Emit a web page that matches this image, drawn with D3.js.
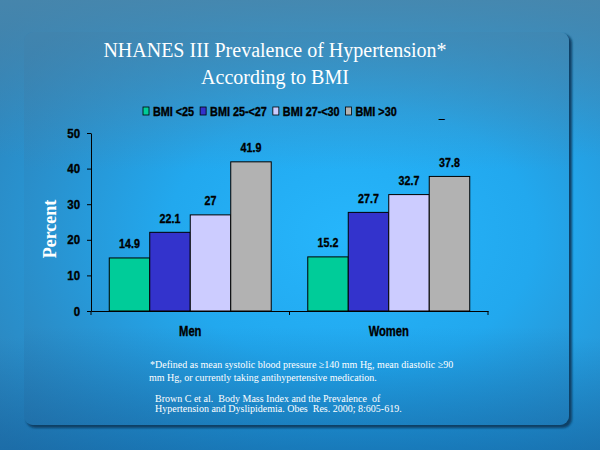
<!DOCTYPE html>
<html>
<head>
<meta charset="utf-8">
<script src="https://cdn.jsdelivr.net/npm/d3@7"></script>
<style>
  body { margin: 0; background: #2a90c8; }
  svg { display: block; }
  .bold { font-family: "Liberation Sans Narrow", "Arial Narrow", "Liberation Sans", sans-serif; font-weight: bold; stroke: #000; stroke-width: 0.35px; }
  .serif { font-family: "Liberation Serif", "Times New Roman", serif; fill: #fff; }
</style>
</head>
<body>
<div id="chart"></div>
<script>
var categories = ["Men", "Women"];
var series = ["BMI <25", "BMI 25-<27", "BMI 27-<30", "BMI >30"];
var men = [14.9, 22.1, 27, 41.9];
var women = [15.2, 27.7, 32.7, 37.8];
var yTicks = [0, 10, 20, 30, 40, 50];
var colors = ["#00cc99", "#3333cc", "#ccccff", "#b2b2b2"];
var footnotes = [
    "*Defined as mean systolic blood pressure \u2265140 mm Hg, mean diastolic \u226590",
    "mm Hg, or currently taking antihypertensive medication."
];
var reference = [
    "Brown C et al.  Body Mass Index and the Prevalence  of",
    "Hypertension and Dyslipidemia. Obes  Res. 2000; 8:605-619."
];

// squeeze bold labels so they look like the narrow font of the slide
function squeeze(sel, k) {
    sel.each(function() {
        var len = this.getComputedTextLength();
        d3.select(this)
          .attr("textLength", len * k)
          .attr("lengthAdjust", "spacingAndGlyphs");
    });
}

function init() {
    var w = 600, h = 450;
    var values = { "Men": men, "Women": women };

    var svg = d3.select("#chart").append("svg")
        .attr("width", w)
        .attr("height", h);

    var defs = svg.append("defs");
    var bg = defs.append("radialGradient").attr("id", "bg")
        .attr("cx", "60%").attr("cy", "52%").attr("r", "75%");
    bg.append("stop").attr("offset", "0%").attr("stop-color", "#26b6fc");
    bg.append("stop").attr("offset", "45%").attr("stop-color", "#22a8ee");
    bg.append("stop").attr("offset", "100%").attr("stop-color", "#2e80b6");

    var topShade = defs.append("linearGradient").attr("id", "topShade")
        .attr("x1", 0).attr("y1", 0).attr("x2", 0).attr("y2", 1);
    topShade.append("stop").attr("offset", "0%").attr("stop-color", "#4a86aa").attr("stop-opacity", 0.85);
    topShade.append("stop").attr("offset", "35%").attr("stop-color", "#4a86aa").attr("stop-opacity", 0);
    topShade.append("stop").attr("offset", "75%").attr("stop-color", "#0a5a9a").attr("stop-opacity", 0);
    topShade.append("stop").attr("offset", "100%").attr("stop-color", "#0a5a9a").attr("stop-opacity", 0.5);

    var blur = defs.append("filter").attr("id", "blur")
        .attr("x", "-5%").attr("y", "-5%").attr("width", "110%").attr("height", "110%");
    blur.append("feGaussianBlur").attr("stdDeviation", 1.2);

    // background
    svg.append("rect").attr("width", w).attr("height", h).attr("fill", "url(#bg)");
    svg.append("rect").attr("width", w).attr("height", h).attr("fill", "url(#topShade)");

    // panel with shadow
    svg.append("rect")
        .attr("x", 26).attr("y", 34).attr("width", 546).attr("height", 394)
        .attr("rx", 9)
        .attr("fill", "#0b3f66")
        .attr("filter", "url(#blur)");
    svg.append("rect")
        .attr("x", 24).attr("y", 32).attr("width", 545).attr("height", 393)
        .attr("rx", 9)
        .attr("fill", "url(#bg)");
    svg.append("rect")
        .attr("x", 24).attr("y", 32).attr("width", 545).attr("height", 393)
        .attr("rx", 9)
        .attr("fill", "url(#topShade)")
        .attr("opacity", 0.8);

    // title
    var title = svg.append("text").attr("class", "serif")
        .attr("text-anchor", "middle")
        .style("font-size", "20px");
    title.append("tspan").attr("x", 275).attr("y", 57).text("NHANES III Prevalence of Hypertension*");
    title.append("tspan").attr("x", 275).attr("y", 84).text("According to BMI");

    // scales
    var x0 = d3.scaleBand()
        .domain(categories)
        .range([91, 488])
        .paddingInner(0.184)
        .paddingOuter(0.092);
    var x1 = d3.scaleBand()
        .domain(series)
        .range([0, x0.bandwidth()]);
    var y = d3.scaleLinear()
        .domain([0, 50])
        .range([311, 133]);

    // bars
    var groups = svg.selectAll(".group")
        .data(categories)
        .enter().append("g")
        .attr("transform", function(d) { return "translate(" + x0(d) + ",0)"; });

    groups.selectAll("rect")
        .data(function(c) { return series.map(function(s, i) { return { s: s, v: values[c][i], i: i }; }); })
        .enter().append("rect")
        .attr("x", function(d) { return x1(d.s); })
        .attr("y", function(d) { return y(d.v); })
        .attr("width", x1.bandwidth())
        .attr("height", function(d) { return y(0) - y(d.v); })
        .attr("fill", function(d) { return colors[d.i]; })
        .attr("stroke", "#000")
        .attr("stroke-width", 1);

    var vals = groups.selectAll(".val")
        .data(function(c) { return series.map(function(s, i) { return { s: s, v: values[c][i] }; }); })
        .enter().append("text")
        .attr("class", "bold")
        .attr("x", function(d) { return x1(d.s) + x1.bandwidth() / 2; })
        .attr("y", function(d) { return y(d.v) - 9.5; })
        .attr("text-anchor", "middle")
        .style("font-size", "13px")
        .text(function(d) { return d.v; });
    squeeze(vals, 0.82);

    // y axis
    var yAxis = svg.append("g")
        .attr("transform", "translate(91,0)")
        .call(d3.axisLeft(y).tickValues(yTicks).tickSize(4).tickPadding(7).tickSizeOuter(0));
    yAxis.select(".domain").attr("stroke", "#000");
    yAxis.selectAll(".tick line").attr("stroke", "#000");
    yAxis.selectAll("text").attr("class", "bold").style("font-size", "13px").attr("fill", "#000");
    squeeze(yAxis.selectAll("text"), 0.88);

    // x axis with ticks between groups
    var xAxis = svg.append("g")
        .attr("transform", "translate(0," + y(0) + ")")
        .call(d3.axisBottom(x0).tickSize(0).tickPadding(15));
    xAxis.select(".domain").attr("stroke", "#000");
    xAxis.selectAll("text").attr("class", "bold").style("font-size", "14px").attr("fill", "#000");
    squeeze(xAxis.selectAll("text"), 0.8);
    var bounds = d3.range(categories.length + 1).map(function(i) { return x0.range()[0] + i * x0.step(); });
    xAxis.selectAll(".sep")
        .data(bounds)
        .enter().append("line")
        .attr("x1", function(d) { return d; })
        .attr("x2", function(d) { return d; })
        .attr("y1", 0).attr("y2", 4)
        .attr("stroke", "#000");

    // y label
    svg.append("text").attr("class", "serif")
        .attr("transform", "translate(56,229) rotate(-90)")
        .attr("text-anchor", "middle")
        .style("font-size", "18px")
        .style("font-weight", "bold")
        .text("Percent");

    // legend
    var legend = svg.append("g").attr("transform", "translate(143,111)");
    var lx = 0;
    series.forEach(function(s, i) {
        var item = legend.append("g").attr("transform", "translate(" + lx + ",0)");
        item.append("rect")
            .attr("x", 0).attr("y", -4).attr("width", 6).attr("height", 8)
            .attr("fill", colors[i]).attr("stroke", "#000").attr("stroke-width", 0.8);
        var t = item.append("text").attr("class", "bold")
            .attr("x", 10).attr("y", 4.5)
            .style("font-size", "12px")
            .text(s);
        squeeze(t, 0.9);
        lx += 10 + (+t.attr("textLength")) + 6;
    });
    svg.append("text").attr("class", "bold")
        .attr("x", 439).attr("y", 118)
        .style("font-size", "10px")
        .text("_");

    // footnotes
    svg.selectAll(".foot")
        .data(footnotes)
        .enter().append("text")
        .attr("class", "serif")
        .attr("x", function(d, i) { return i === 0 ? 150 : 149; })
        .attr("y", function(d, i) { return 368 + i * 13; })
        .style("font-size", "10px")
        .style("white-space", "pre")
        .text(function(d) { return d; });
    svg.selectAll(".ref")
        .data(reference)
        .enter().append("text")
        .attr("class", "serif")
        .attr("x", 155)
        .attr("y", function(d, i) { return 402 + i * 10; })
        .style("font-size", "10px")
        .style("white-space", "pre")
        .text(function(d) { return d; });
}

window.onload = init;
</script>
</body>
</html>
